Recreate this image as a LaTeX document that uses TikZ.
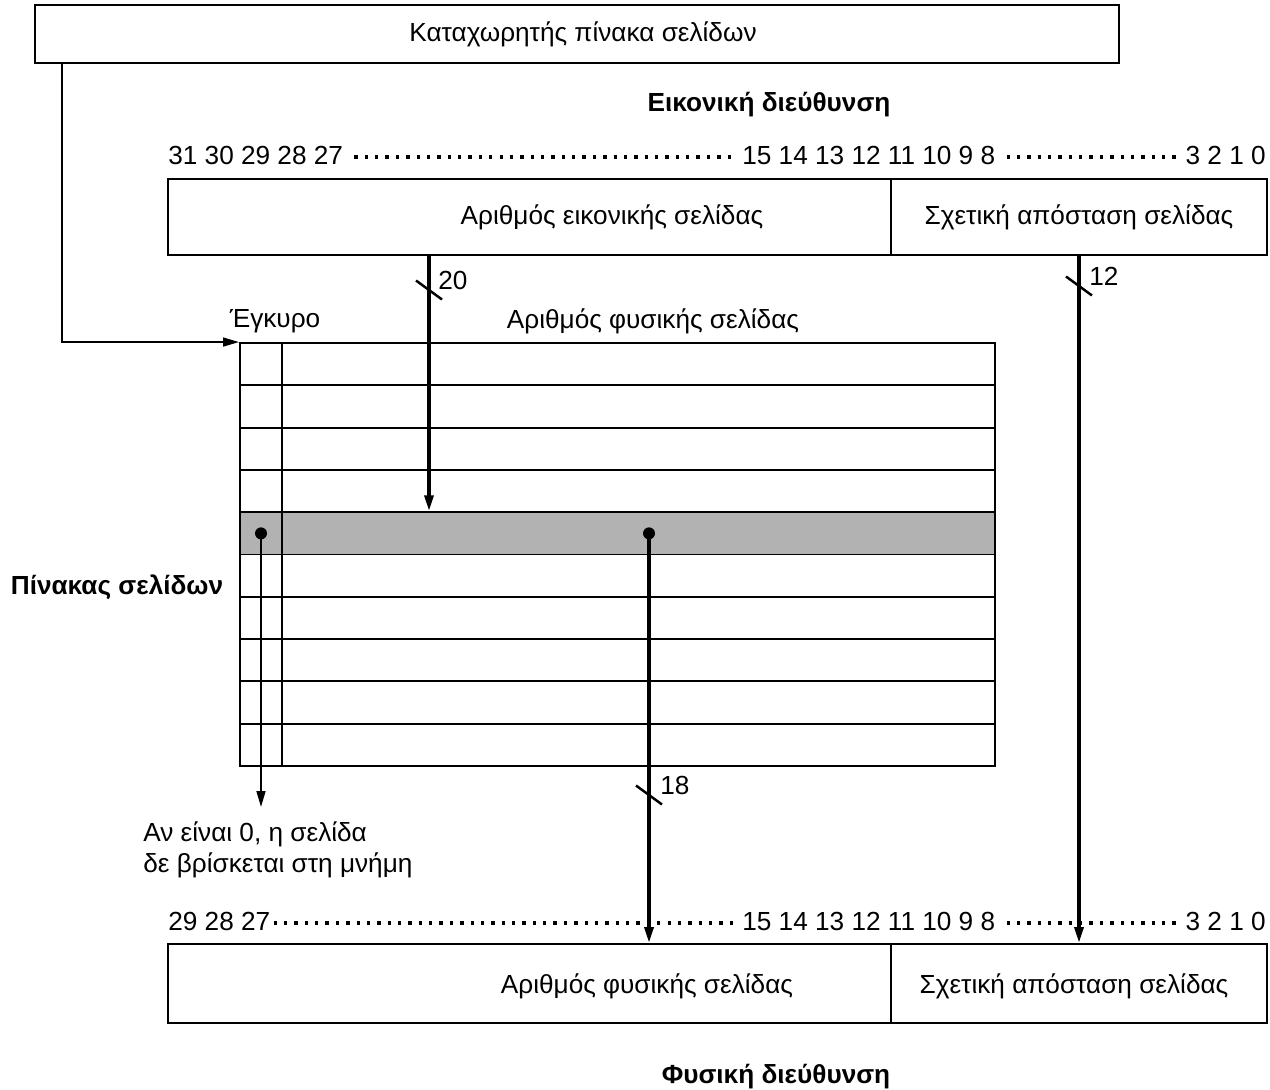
\documentclass[tikz,border=0pt]{standalone}
\usepackage{fontspec}
\setmainfont{Liberation Sans}
\usetikzlibrary{arrows.meta}
\usetikzlibrary{positioning}

\begin{document}
\begin{tikzpicture}[
    x=0.02cm, y=-0.02cm,
    every node/.style={font=\fontsize{14.9}{17.6}\selectfont, inner sep=0pt},
    field/.style={draw, line width=1.1pt, minimum height=1.52cm},
    cell/.style={draw, line width=1.1pt, minimum height=0.846cm},
    title/.style={font=\fontsize{14.9}{17.6}\selectfont\bfseries},
    bits/.style={anchor=west},
    bitdots/.style={line width=1.9pt, line cap=butt, dash pattern=on 1.9pt off 4pt},
    thinarrow/.style={-{Triangle[length=9pt, width=5pt]}, line width=1.1pt},
    busarrow/.style={-{Triangle[length=9pt, width=5pt]}, line width=2pt},
    slash/.style={line width=1.4pt},
    dot/.style={circle, fill, minimum size=0.24cm},
    buslabel/.style={anchor=west, yshift=0.2cm}
]
  \useasboundingbox (0,0) rectangle (1270,1089);

  % Page table register (TOP)
  \node[field, minimum width=21.68cm, minimum height=1.16cm] (ptreg) at (577,34) {};
  \node (ptregtext) at (583,34) {Καταχωρητής πίνακα σελίδων};
  \coordinate (ptregout) at ([xshift=0.56cm]ptreg.south west);

  % Virtual address
  \node[title] (vtitle) at (769,105) {Εικονική διεύθυνση};
  \node[bits] (v31) at (168,155) {31 30 29 28 27};
  \node[bits] (v15) at (742,155) {15 14 13 12 11 10 9 8};
  \node[bits, anchor=east] (v3) at (1266,155) {3 2 1 0};
  \draw[bitdots] ([xshift=0.22cm, yshift=-0.04cm]v31.east) -- ([xshift=-0.2cm, yshift=-0.04cm]v15.west);
  \draw[bitdots] ([xshift=0.22cm, yshift=-0.04cm]v15.east) -- ([xshift=-0.1cm, yshift=-0.04cm]v3.west);
  \node[field, minimum width=14.46cm] (vpn) at (529.5,217) {};
  \node[field, minimum width=7.52cm] (voff) at (1079,217) {Σχετική απόσταση σελίδας};
  \node (vpntext) at (612,217) {Αριθμός εικονικής σελίδας};

  % Page table
  \node (validlbl) at (275,321) {Έγκυρο};
  \node (ppnlbl) at (653,321) {Αριθμός φυσικής σελίδας};
  \node[title] (pttitle) at (117,587) {Πίνακας σελίδων};
  \foreach \i/\tone in {0/white, 1/white, 2/white, 3/white, 4/black!30, 5/white, 6/white, 7/white, 8/white, 9/white} {
    \node[cell, fill=\tone, minimum width=0.84cm] (valid\i) at (261,{364.15+42.3*\i}) {};
    \node[cell, fill=\tone, minimum width=14.26cm] (entry\i) at (638.5,{364.15+42.3*\i}) {};
  }

  % Register points at the table
  \draw[thinarrow] (ptregout) |- (valid0.north west);

  % Virtual page number selects the entry
  \coordinate (vpnout) at (429,255);
  \draw[busarrow] (vpnout) -- (vpnout |- entry4.north);
  \coordinate (s20) at (429,290);
  \draw[slash] ([shift={(-0.26cm,0.19cm)}]s20) -- ([shift={(0.26cm,-0.19cm)}]s20);
  \node[buslabel, right=0.18cm of s20] (n20) {20};

  % Offset goes straight through
  \coordinate (s12) at (1079,286);
  \draw[slash] ([shift={(-0.26cm,0.19cm)}]s12) -- ([shift={(0.26cm,-0.19cm)}]s12);
  \node[buslabel, right=0.2cm of s12] (n12) {12};

  % Valid bit
  \node[dot] (validdot) at (valid4) {};
  \coordinate (validend) at (261,807);
  \draw[thinarrow] (validdot.center) -- (validend);
  \node[anchor=north west, align=left] (validnote) at (143,821) {Αν είναι 0, η σελίδα\\δε βρίσκεται στη μνήμη};

  % Physical page number
  \node[dot] (ppndot) at (649,533.35) {};
  \coordinate (s18) at (649,795);
  \draw[slash] ([shift={(-0.26cm,0.19cm)}]s18) -- ([shift={(0.26cm,-0.19cm)}]s18);
  \node[buslabel, right=0.22cm of s18] (n18) {18};

  % Physical address (BOTTOM)
  \node[bits] (p29) at (168,921) {29 28 27};
  \node[bits] (p15) at (742,921) {15 14 13 12 11 10 9 8};
  \node[bits, anchor=east] (p3) at (1266,921) {3 2 1 0};
  \draw[bitdots] ([xshift=0.06cm, yshift=-0.04cm]p29.east) -- ([xshift=-0.04cm, yshift=-0.04cm]p15.west);
  \draw[bitdots] ([xshift=0.22cm, yshift=-0.04cm]p15.east) -- ([xshift=-0.1cm, yshift=-0.04cm]p3.west);
  \node[field, minimum width=14.46cm, minimum height=1.58cm] (ppn) at (529.5,983.5) {};
  \node[field, minimum width=7.52cm, minimum height=1.58cm] (poff) at (1079,983.5) {};
  \node (pofftext) at (1074,986) {Σχετική απόσταση σελίδας};
  \node (ppntext) at (647,986) {Αριθμός φυσικής σελίδας};
  \node[title] (ptitle) at (776,1077) {Φυσική διεύθυνση};

  \draw[busarrow] (ppndot.center) -- (ppndot |- ppn.north);
  \draw[busarrow] (voff.south) -- (poff.north);

\end{tikzpicture}
\end{document}
